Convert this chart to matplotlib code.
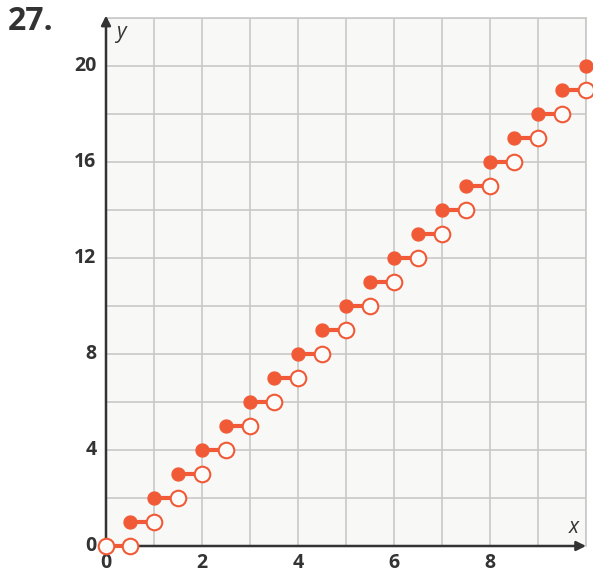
import numpy as np
import matplotlib.pyplot as plt

# step pieces: y = k on [k/2, (k+1)/2)
seg_start = [0, 0.5, 1, 1.5, 2, 2.5, 3, 3.5, 4, 4.5, 5, 5.5, 6, 6.5, 7, 7.5, 8, 8.5, 9, 9.5]
seg_end = [0.5, 1, 1.5, 2, 2.5, 3, 3.5, 4, 4.5, 5, 5.5, 6, 6.5, 7, 7.5, 8, 8.5, 9, 9.5, 10]
seg_y = [0, 1, 2, 3, 4, 5, 6, 7, 8, 9, 10, 11, 12, 13, 14, 15, 16, 17, 18, 19]
closed_left = [False] + [True] * 19
last_x, last_y = 10, 20

x_ticks = [0, 2, 4, 6, 8]
y_ticks = [0, 4, 8, 12, 16, 20]

orange = '#f15a36'
dark = '#333333'
gridc = '#c9c9c9'

plt.rcParams['font.family'] = ['Open Sans', 'DejaVu Sans']

fig = plt.figure(figsize=(5.93, 5.72), dpi=100)
ax = fig.add_axes([106 / 593, 26 / 572, 480 / 593, 528 / 572])
ax.set_facecolor('#f8f8f6')
ax.set_xlim(0, 10)
ax.set_ylim(0, 22)

ax.set_xticks(np.arange(0, 11, 1))
ax.set_yticks(np.arange(0, 23, 2))
ax.grid(True, color=gridc, lw=1.2)
ax.set_axisbelow(True)
ax.tick_params(length=0, labelbottom=False, labelleft=False)

for s in ['top', 'right']:
    ax.spines[s].set_color(gridc)
    ax.spines[s].set_linewidth(1.2)
for s in ['left', 'bottom']:
    ax.spines[s].set_visible(False)

# axes with arrows
ax.annotate('', xy=(10, 0), xytext=(0, 0), xycoords='data',
            arrowprops=dict(arrowstyle='-|>', color=dark, lw=1.8, mutation_scale=14,
                            shrinkA=0, shrinkB=0), annotation_clip=False)
ax.annotate('', xy=(0, 22.1), xytext=(0, 0), xycoords='data',
            arrowprops=dict(arrowstyle='-|>', color=dark, lw=1.8, mutation_scale=14,
                            shrinkA=0, shrinkB=0), annotation_clip=False)

open_kw = dict(ms=11.2, mfc='#fbfbfa', mec=orange, mew=1.5, clip_on=False, zorder=4)
for x0, x1, y, cl in zip(seg_start, seg_end, seg_y, closed_left):
    ax.plot([x0, x1], [y, y], color=orange, lw=3, solid_capstyle='butt', clip_on=False, zorder=3)
    if cl:
        ax.plot(x0, y, 'o', ms=9.3, color=orange, mec=orange, clip_on=False, zorder=4)
    else:
        ax.plot(x0, y, 'o', **open_kw)
    ax.plot(x1, y, 'o', **open_kw)
ax.plot(last_x, last_y, 'o', ms=9.3, color=orange, clip_on=False, zorder=4)

for t in x_ticks:
    ax.text(t, -0.3, str(t), ha='center', va='top', fontsize=14, fontweight='bold', color=dark)
for t in y_ticks:
    ax.text(-0.2, t, str(t), ha='right', va='center', fontsize=14, fontweight='bold', color=dark)

ax.text(9.75, 0.35, 'x', ha='center', va='bottom', fontsize=15, style='italic', color=dark)
ax.text(0.2, 21.4, 'y', ha='left', va='center', fontsize=15, style='italic', color=dark)

fig.text(8 / 593, 1 - 22 / 572, '27.', ha='left', va='center', fontsize=23, fontweight='bold', color=dark)

fig.savefig('out.png', dpi=100)
